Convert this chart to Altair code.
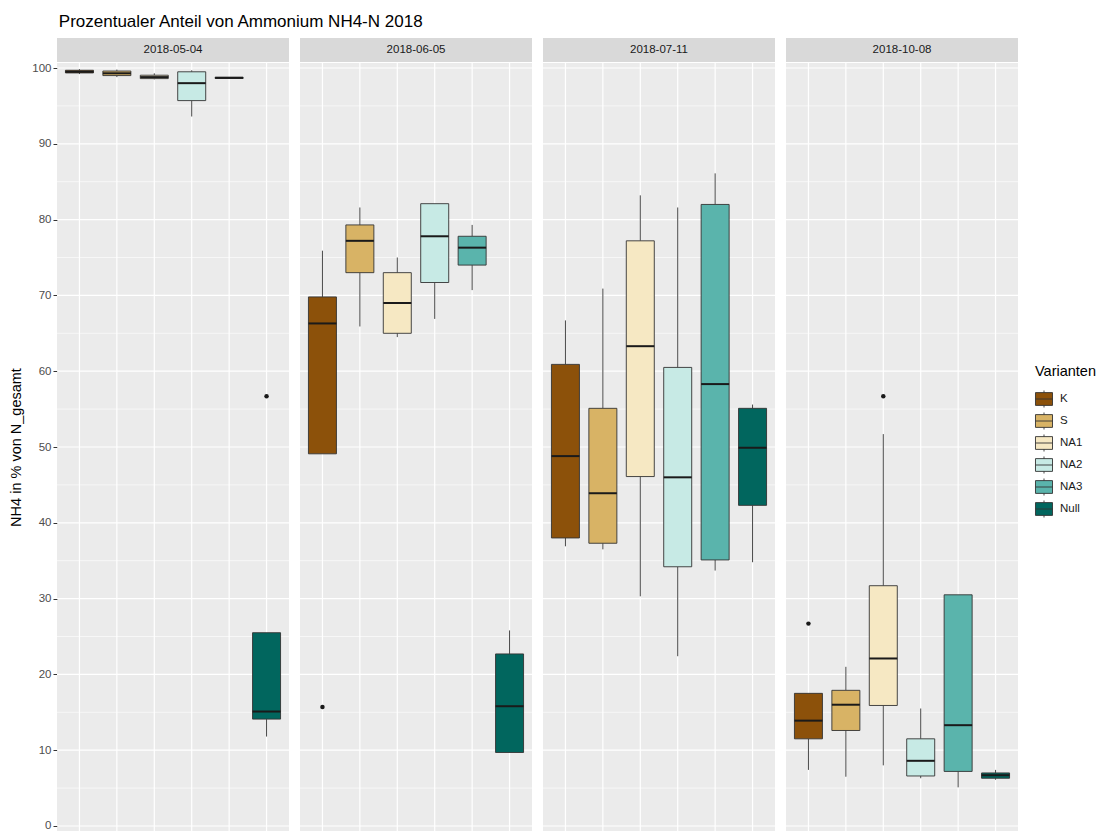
import altair as alt
import pandas as pd

FONT = "Liberation Sans"

dates = ["2018-05-04", "2018-06-05", "2018-07-11", "2018-10-08"]
variants = ["K", "S", "NA1", "NA2", "NA3", "Null"]
palette = ["#8C510A", "#D8B365", "#F6E8C3", "#C7EAE5", "#5AB4AC", "#01665E"]

# Box statistics: one row per date, columns in variant order K, S, NA1, NA2, NA3, Null
whisker_low = [
    [99.2, 98.8, 98.5, 93.6, 98.6, 11.8],
    [49.1, 65.9, 64.5, 66.9, 70.7, 9.7],
    [36.9, 36.5, 30.3, 22.4, 33.7, 34.8],
    [7.4, 6.5, 8.0, 6.3, 5.1, 6.1],
]
quartile_1 = [
    [99.35, 99.0, 98.6, 95.7, 98.62, 14.1],
    [49.1, 73.0, 65.0, 71.7, 74.0, 9.7],
    [38.0, 37.3, 46.1, 34.2, 35.1, 42.3],
    [11.5, 12.6, 15.9, 6.6, 7.2, 6.3],
]
median = [
    [99.5, 99.3, 98.8, 98.0, 98.7, 15.1],
    [66.3, 77.2, 69.0, 77.8, 76.3, 15.8],
    [48.8, 43.9, 63.3, 46.0, 58.3, 49.9],
    [13.9, 16.0, 22.1, 8.6, 13.3, 6.7],
]
quartile_3 = [
    [99.7, 99.6, 99.05, 99.5, 98.78, 25.5],
    [69.8, 79.3, 73.0, 82.1, 77.8, 22.7],
    [60.9, 55.1, 77.2, 60.5, 82.0, 55.1],
    [17.5, 17.9, 31.7, 11.5, 30.5, 7.0],
]
whisker_high = [
    [99.85, 99.8, 99.3, 99.7, 98.8, 25.5],
    [75.9, 81.6, 75.0, 82.1, 79.3, 25.8],
    [66.7, 70.9, 83.2, 81.6, 86.1, 55.6],
    [17.5, 21.0, 51.7, 15.5, 30.5, 7.4],
]

# Single points beyond the whiskers
outlier_date = ["2018-05-04", "2018-06-05", "2018-10-08", "2018-10-08"]
outlier_variant = ["Null", "K", "K", "NA1"]
outlier_value = [56.7, 15.7, 26.7, 56.7]

major_ticks = [0, 10, 20, 30, 40, 50, 60, 70, 80, 90, 100]
minor_ticks = [5, 15, 25, 35, 45, 55, 65, 75, 85, 95]

rows = []
for i, d in enumerate(dates):
    for j, v in enumerate(variants):
        rows.append({
            "date": d, "variant": v,
            "lo": whisker_low[i][j], "q1": quartile_1[i][j], "med": median[i][j],
            "q3": quartile_3[i][j], "hi": whisker_high[i][j],
        })
stats = pd.DataFrame(rows)
outliers = pd.DataFrame({"date": outlier_date, "variant": outlier_variant, "value": outlier_value})
major_df = pd.DataFrame({"v": major_ticks})
minor_df = pd.DataFrame({"v": minor_ticks})
vgrid_df = pd.DataFrame({"variant": variants})

W, H = 232, 768
BOX_W = 28
SMALL = 11.5
MEDIUM = 14.5

# legend key drawn as a small boxplot: box, median line and whisker stubs
BOX_GLYPH = "M-1,-0.75L1,-0.75L1,0.75L-1,0.75Z M-1,0L1,0 M0,-1L0,-0.75 M0,0.75L0,1"

xsc = alt.Scale(type="point", domain=variants, padding=0.6)
ysc = alt.Scale(domain=[-0.66, 100.66], nice=False, zero=False)
color = alt.Color(
    "variant:N",
    scale=alt.Scale(domain=variants, range=palette),
    legend=alt.Legend(
        title="Varianten", orient="none", legendX=978, legendY=302,
        symbolType=BOX_GLYPH, symbolSize=290, symbolStrokeColor="#333333",
        symbolStrokeWidth=0.9, rowPadding=0, labelOffset=7, titlePadding=10.5,
        labelFontSize=SMALL, titleFontSize=MEDIUM, labelFont=FONT, titleFont=FONT,
        titleFontWeight="normal", labelColor="#1A1A1A", titleColor="#000000",
    ),
)


def panel(i):
    d = dates[i]
    if i == 0:
        yaxis = alt.Axis(
            values=major_ticks, grid=False, domain=False, title="NH4 in % von N_gesamt",
            tickColor="#333333", tickSize=4, labelPadding=2, labelColor="#4D4D4D",
            labelFontSize=SMALL, labelFont=FONT, titleFont=FONT, titleFontSize=MEDIUM,
            titleFontWeight="normal", titleColor="#000000", titlePadding=8,
        )
    else:
        yaxis = None
    xenc = alt.X("variant:N", scale=xsc, axis=None)

    def y(field):
        return alt.Y(field, type="quantitative", scale=ysc, axis=yaxis)

    s = alt.Chart(stats[stats["date"] == d])
    o = alt.Chart(outliers[outliers["date"] == d])

    minor = alt.Chart(minor_df).mark_rule(color="white", strokeWidth=0.6).encode(y=y("v"))
    major = alt.Chart(major_df).mark_rule(color="white", strokeWidth=1.2).encode(y=y("v"))
    vgrid = alt.Chart(vgrid_df).mark_rule(color="white", strokeWidth=1.2).encode(x=xenc)
    low_whisker = s.mark_rule(color="#333333", strokeWidth=0.9).encode(x=xenc, y=y("lo"), y2="q1")
    high_whisker = s.mark_rule(color="#333333", strokeWidth=0.9).encode(x=xenc, y=y("q3"), y2="hi")
    boxes = s.mark_bar(size=BOX_W, stroke="#333333", strokeWidth=0.9).encode(
        x=xenc, y=y("q1"), y2="q3", color=color
    )
    medians = s.mark_tick(size=BOX_W, thickness=2, color="#1A1A1A", opacity=1).encode(x=xenc, y=y("med"))
    points = o.mark_circle(size=20, color="#1A1A1A", opacity=1).encode(x=xenc, y=y("value"))

    label_df = pd.DataFrame({"date": [d]})
    strip = alt.Chart(label_df).mark_rect(color="#D9D9D9").encode(
        x=alt.value(0), x2=alt.value(W), y=alt.value(-25), y2=alt.value(-1)
    )
    strip_text = alt.Chart(label_df).mark_text(
        font=FONT, fontSize=SMALL, color="#1A1A1A", baseline="middle"
    ).encode(text="date:N", x=alt.value(W / 2), y=alt.value(-13))

    layers = [minor, major, vgrid, low_whisker, high_whisker, boxes, medians]
    if len(outliers[outliers["date"] == d]):
        layers.append(points)
    layers += [strip, strip_text]
    return alt.layer(*layers).properties(width=W, height=H)


chart = (
    alt.hconcat(*[panel(i) for i in range(4)], spacing=9)
    .properties(
        title=alt.TitleParams(
            "Prozentualer Anteil von Ammonium NH4-N 2018", anchor="start", font=FONT,
            fontSize=17, fontWeight="normal", color="#000000", offset=7, dx=50,
        ),
        padding={"left": 8, "top": 13, "right": 0, "bottom": 0},
    )
    .configure_view(fill="#EBEBEB", stroke=None)
    .configure_concat(spacing=9)
)

chart.save("out.html", embed_options={"renderer": "svg", "actions": False})
